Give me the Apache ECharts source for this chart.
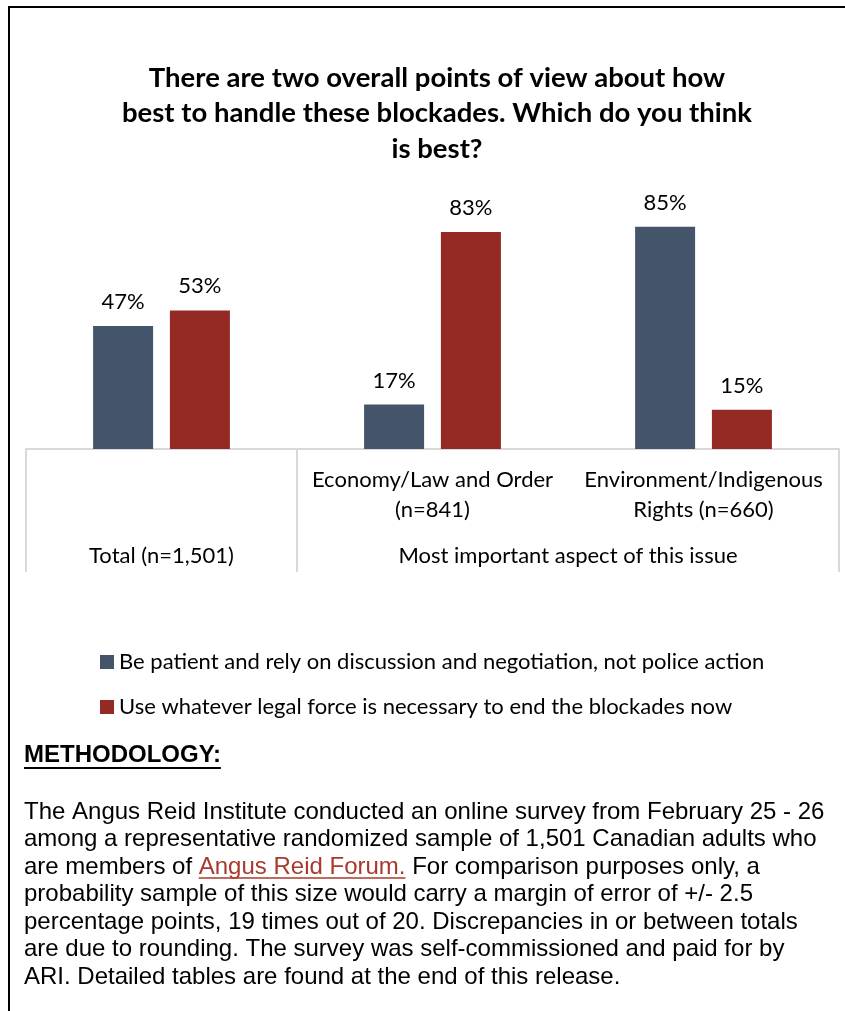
<!DOCTYPE html>
<html>
<head>
<meta charset="utf-8">
<title>Blockades survey</title>
<script src="https://cdn.jsdelivr.net/npm/echarts@6/dist/echarts.min.js"></script>
<style>
  html, body { margin: 0; padding: 0; background: #fff; }
  #chart { width: 845px; height: 1011px; }
</style>
</head>
<body>
<div id="chart"></div>
<script>
// Survey results: preferred approach to the blockades, by subgroup
const categories = ['Total (n=1,501)', 'Economy/Law and Order\n(n=841)', 'Environment/Indigenous\nRights (n=660)'];
const groupLabels = ['Total (n=1,501)', 'Most important aspect of this issue'];
const seriesNames = [
  'Be patient and rely on discussion and negotiation, not police action',
  'Use whatever legal force is necessary to end the blockades now'
];
const patientValues = [47, 17, 85];
const forceValues = [53, 83, 15];

const methodologyHeading = 'METHODOLOGY:';
const methodologyLines = [
  'The Angus Reid Institute conducted an online survey from February 25 - 26',
  'among a representative randomized sample of 1,501 Canadian adults who',
  ['are members of ', 'Angus Reid Forum.', ' For comparison purposes only, a'],
  'probability sample of this size would carry a margin of error of +/- 2.5',
  'percentage points, 19 times out of 20. Discrepancies in or between totals',
  'are due to rounding. The survey was self-commissioned and paid for by',
  'ARI. Detailed tables are found at the end of this release.'
];

const BLUE = '#44546A';
const RED = '#952923';
const LINK = '#A83A2C';
const GRID_LINE = '#D9D9D9';
const SANS = 'Lato';

const chart = echarts.init(document.getElementById('chart'));

// text measurement for placing the inline link and underlines
const measureCtx = document.createElement('canvas').getContext('2d');
function textWidth(str, font) {
  measureCtx.font = font;
  return measureCtx.measureText(str).width;
}

const bodyFont = '24px "Liberation Sans"';
const headFont = 'bold 24px "Liberation Sans"';
const textLeft = 24;
const firstLineY = 812;
const lineStep = 27.5;

const graphics = [];
// page frame (top and left rules)
graphics.push({
  type: 'polyline',
  shape: { points: [[9, 1011], [9, 7], [845, 7]] },
  style: { stroke: '#000', lineWidth: 2, fill: null },
  silent: true
});
// heading
graphics.push({
  type: 'text',
  x: textLeft, y: 755,
  style: { text: methodologyHeading, font: headFont, fill: '#000', textVerticalAlign: 'middle' }
});
graphics.push({
  type: 'line',
  shape: { x1: textLeft, y1: 768, x2: textLeft + textWidth(methodologyHeading, headFont), y2: 768 },
  style: { stroke: '#000', lineWidth: 2 }
});
// paragraph
methodologyLines.forEach((line, i) => {
  const y = firstLineY + i * lineStep;
  if (Array.isArray(line)) {
    let x = textLeft;
    line.forEach((part, j) => {
      const isLink = j === 1;
      graphics.push({
        type: 'text', x: x, y: y,
        style: { text: part, font: bodyFont, fill: isLink ? LINK : '#000', textVerticalAlign: 'middle' }
      });
      const w = textWidth(part, bodyFont);
      if (isLink) {
        graphics.push({
          type: 'line',
          shape: { x1: x, y1: y + 11, x2: x + w, y2: y + 11 },
          style: { stroke: LINK, lineWidth: 1.5 }
        });
      }
      x += w;
    });
  } else {
    graphics.push({
      type: 'text', x: textLeft, y: y,
      style: { text: line, font: bodyFont, fill: '#000', textVerticalAlign: 'middle' }
    });
  }
});

const labelStyle = {
  show: true,
  position: 'top',
  distance: 12,
  formatter: p => p.value + '%',
  fontFamily: SANS,
  fontSize: 22,
  lineHeight: 24,
  color: '#000'
};

const option = {
  animation: false,
  backgroundColor: '#fff',
  title: {
    text: 'There are two overall points of view about how\nbest to handle these blockades. Which do you think\nis best?',
    left: 432,
    top: 55,
    textAlign: 'center',
    textStyle: {
      fontFamily: SANS,
      fontWeight: 'bold',
      fontSize: 27.5,
      lineHeight: 35.5,
      color: '#000'
    }
  },
  legend: {
    orient: 'vertical',
    left: 100,
    top: 651,
    padding: 0,
    itemWidth: 14,
    itemHeight: 14,
    itemGap: 23,
    icon: 'rect',
    data: seriesNames,
    textStyle: { fontFamily: SANS, fontSize: 22, lineHeight: 22, color: '#000' }
  },
  grid: { left: 26, right: 6, top: 187.5, bottom: 562, containLabel: false },
  xAxis: [
    {
      type: 'category',
      data: categories,
      position: 'bottom',
      axisLine: { show: true, lineStyle: { color: GRID_LINE, width: 2 } },
      axisTick: { show: false },
      axisLabel: {
        interval: 0,
        margin: 16,
        fontFamily: SANS,
        fontSize: 22,
        lineHeight: 30,
        color: '#000',
        formatter: (v, i) => (i === 0 ? '' : v)
      }
    },
    {
      type: 'value',
      min: 0,
      max: categories.length,
      position: 'bottom',
      axisLine: { show: false },
      splitLine: { show: false },
      axisTick: {
        show: true,
        length: 123,
        customValues: [0, 1, categories.length],
        lineStyle: { color: GRID_LINE, width: 2 }
      },
      axisLabel: {
        show: true,
        margin: 95,
        customValues: [0.5, (1 + categories.length) / 2],
        formatter: v => (v < 1 ? groupLabels[0] : groupLabels[1]),
        fontFamily: SANS,
        fontSize: 22,
        lineHeight: 24,
        color: '#000'
      }
    }
  ],
  yAxis: {
    type: 'value',
    min: 0,
    max: 100,
    show: false
  },
  series: [
    {
      name: seriesNames[0],
      type: 'bar',
      xAxisIndex: 0,
      data: patientValues,
      barWidth: 60,
      barGap: '28%',
      itemStyle: { color: BLUE },
      label: labelStyle
    },
    {
      name: seriesNames[1],
      type: 'bar',
      xAxisIndex: 0,
      data: forceValues,
      barWidth: 60,
      barGap: '28%',
      itemStyle: { color: RED },
      label: labelStyle
    }
  ],
  graphic: graphics
};

chart.setOption(option);
</script>
</body>
</html>
